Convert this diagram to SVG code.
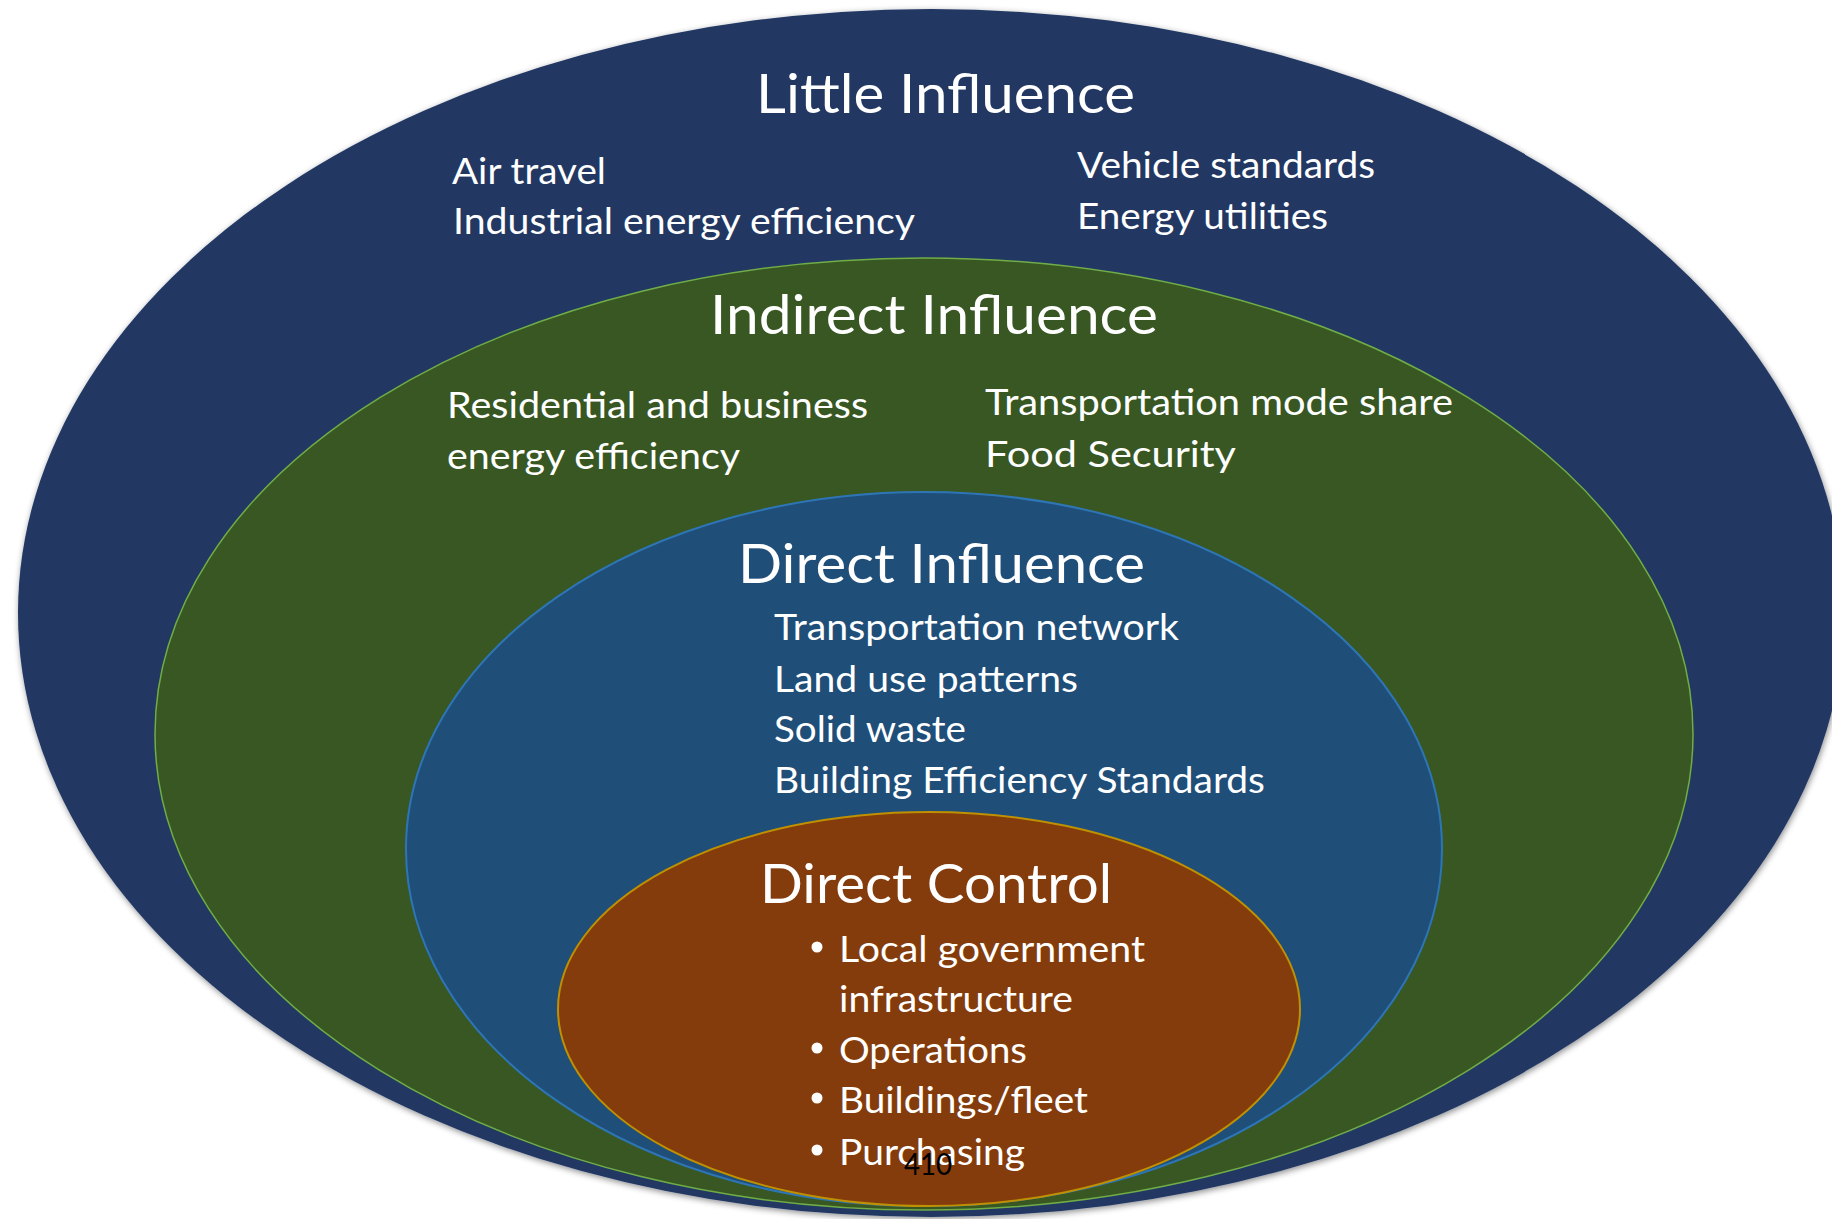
<svg xmlns="http://www.w3.org/2000/svg" width="1832" height="1219" viewBox="0 0 1832 1219">
<defs>
<filter id="sh" x="-5%" y="-5%" width="110%" height="110%">
<feDropShadow dx="1" dy="2" stdDeviation="3" flood-color="#000" flood-opacity="0.45"/>
</filter>
</defs>
<style>
text{font-family:"Lato","Open Sans","Liberation Sans",sans-serif;fill:#fff}
.t{font-size:55px}
.b{font-size:37px}
.pg{font-size:31px;fill:#000}
</style>
<rect width="1832" height="1219" fill="#fff"/>
<g id="little-influence">
<ellipse cx="931" cy="613" rx="913" ry="604" fill="#203864" filter="url(#sh)"/>
<text class="t" x="756" y="113" textLength="379" lengthAdjust="spacingAndGlyphs">Little Influence</text>
<text class="b" x="452" y="184" textLength="154" lengthAdjust="spacingAndGlyphs">Air travel</text>
<text class="b" x="453" y="234" textLength="462" lengthAdjust="spacingAndGlyphs">Industrial energy efficiency</text>
<text class="b" x="1077" y="178" textLength="298" lengthAdjust="spacingAndGlyphs">Vehicle standards</text>
<text class="b" x="1077" y="229" textLength="251" lengthAdjust="spacingAndGlyphs">Energy utilities</text>
</g>
<g id="indirect-influence">
<ellipse cx="924" cy="734" rx="769" ry="476" fill="#385723" stroke="#70ad47" stroke-width="1.5"/>
<text class="t" x="710" y="334" textLength="448" lengthAdjust="spacingAndGlyphs">Indirect Influence</text>
<text class="b" x="447" y="418" textLength="421" lengthAdjust="spacingAndGlyphs">Residential and business</text>
<text class="b" x="447" y="469" textLength="293" lengthAdjust="spacingAndGlyphs">energy efficiency</text>
<text class="b" x="985" y="415" textLength="468" lengthAdjust="spacingAndGlyphs">Transportation mode share</text>
<text class="b" x="985" y="467" textLength="251" lengthAdjust="spacingAndGlyphs">Food Security</text>
</g>
<g id="direct-influence">
<ellipse cx="924" cy="849" rx="518" ry="357" fill="#1f4e79" stroke="#2e75b6" stroke-width="2"/>
<text class="t" x="738" y="583" textLength="407" lengthAdjust="spacingAndGlyphs">Direct Influence</text>
<text class="b" x="774" y="640" textLength="405" lengthAdjust="spacingAndGlyphs">Transportation network</text>
<text class="b" x="774" y="692" textLength="304" lengthAdjust="spacingAndGlyphs">Land use patterns</text>
<text class="b" x="774" y="742" textLength="192" lengthAdjust="spacingAndGlyphs">Solid waste</text>
<text class="b" x="774" y="793" textLength="491" lengthAdjust="spacingAndGlyphs">Building Efficiency Standards</text>
</g>
<g id="direct-control">
<ellipse cx="929" cy="1009" rx="371" ry="197" fill="#843c0c" stroke="#bf9000" stroke-width="2"/>
<text class="t" x="760" y="903" textLength="352" lengthAdjust="spacingAndGlyphs">Direct Control</text>
<g fill="#fff">
<circle cx="817" cy="947" r="5.5"/>
<circle cx="817" cy="1048" r="5.5"/>
<circle cx="817" cy="1098" r="5.5"/>
<circle cx="817" cy="1150" r="5.5"/>
</g>
<text class="b" x="839" y="962" textLength="306" lengthAdjust="spacingAndGlyphs">Local government</text>
<text class="b" x="839" y="1012" textLength="234" lengthAdjust="spacingAndGlyphs">infrastructure</text>
<text class="b" x="839" y="1063" textLength="188" lengthAdjust="spacingAndGlyphs">Operations</text>
<text class="b" x="839" y="1113" textLength="249" lengthAdjust="spacingAndGlyphs">Buildings/fleet</text>
<text class="b" x="839" y="1165" textLength="186" lengthAdjust="spacingAndGlyphs">Purchasing</text>
</g>
<g id="page-number">
<text class="pg" x="904" y="1175" textLength="48" lengthAdjust="spacingAndGlyphs">410</text>
</g>
<g id="connectors"/>
</svg>
